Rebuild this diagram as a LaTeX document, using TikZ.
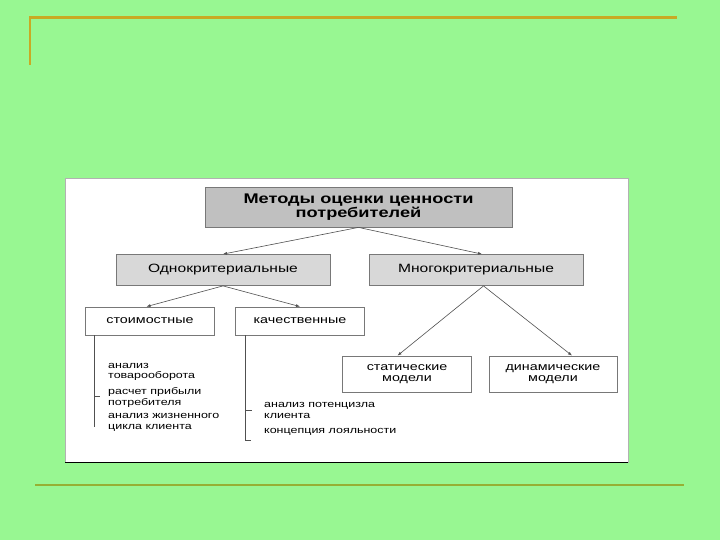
\documentclass[tikz,border=0pt]{standalone}
\usepackage{fontspec}
\setmainfont{Liberation Sans}
\newfontfamily\wf[FakeStretch=1.3]{Liberation Sans}
\usetikzlibrary{arrows.meta}
\definecolor{bg}{RGB}{152,247,146}
\definecolor{goldl}{RGB}{200,170,36}
\definecolor{olivel}{RGB}{150,176,52}
\definecolor{darkbox}{RGB}{192,192,192}
\definecolor{lightbox}{RGB}{216,216,216}
\definecolor{edge}{RGB}{120,120,120}
\definecolor{conn}{RGB}{80,80,80}
\begin{document}
\begin{tikzpicture}[x=1pt,y=-1pt,
  box/.style={draw=edge, line width=0.8pt, inner sep=0pt, align=center, text=black},
  bigbox/.style={box, fill=darkbox, minimum width=307pt, minimum height=40pt,
     font=\wf\bfseries\fontsize{14}{14.5}\selectfont},
  midbox/.style={box, fill=lightbox, minimum width=214pt, minimum height=31pt,
     font=\wf\fontsize{12}{13}\selectfont},
  smallbox/.style={box, fill=white, minimum width=129pt, minimum height=28pt,
     font=\wf\fontsize{11}{11}\selectfont},
  item/.style={anchor=west, inner sep=0pt, align=left,
     font=\wf\fontsize{9.6}{10.5}\selectfont},
  arr/.style={draw=conn, line width=0.6pt, -{Latex[length=4pt,width=3pt]}},
  bar/.style={draw=conn, line width=1pt}]
\useasboundingbox (0,0) rectangle (720,540);
\fill[bg] (0,0) rectangle (720,540);
% decorative lines
\draw[goldl, line width=2.2pt] (30,65) -- (30,17.5) -- (677,17.5);
\draw[olivel, line width=2.6pt] (35,485) -- (684,485);
% white panel
\fill[white] (65,178) rectangle (628,462);
\draw[gray!60, line width=0.5pt] (65,178) rectangle (628,462);
\draw[black, line width=1pt] (65,462) -- (628,462);
% boxes
\node[bigbox] (main) at (358.5,207) {Методы оценки ценности\\потребителей};
\node[midbox] (one) at (223,270) {Однокритериальные};
\node[midbox] (multi) at (476,270) {Многокритериальные};
\node[smallbox] (cost) at (150,321) {стоимостные};
\node[smallbox] (qual) at (300,321) {качественные};
\node[smallbox, minimum height=36pt, font=\wf\fontsize{11}{11.5}\selectfont] (stat) at (407,374) {статические\\модели};
\node[smallbox, minimum height=36pt, minimum width=128pt, font=\wf\fontsize{11}{11.5}\selectfont] (dyn) at (553,374) {динамические\\модели};
% arrows
\draw[arr] (main.south) -- (one.north);
\draw[arr] (main.south) -- ([xshift=6pt]multi.north);
\draw[arr] (one.south) -- ([xshift=-3.5pt]cost.north);
\draw[arr] (one.south) -- (qual.north);
\draw[arr] ([xshift=7.5pt]multi.south) -- ([xshift=-9.5pt]stat.north);
\draw[arr] ([xshift=7.5pt]multi.south) -- ([xshift=19pt]dyn.north);
% lists
\node[item] (c1) at (108,371.7) {анализ\\товарооборота};
\node[item] (c2) at (108,397.5) {расчет прибыли\\потребителя};
\node[item] (c3) at (108,422.3) {анализ жизненного\\цикла клиента};
\node[item] (q1) at (264,410.7) {анализ потенцизла\\клиента};
\node[item] (q2) at (264,431.7) {концепция лояльности};
\coordinate (cs) at ([xshift=-55.5pt]cost.south);
\coordinate (ce) at (94.5,427);
\coordinate (qs) at ([xshift=-55pt]qual.south);
\coordinate (qe) at (245,440);
\draw[bar] (cs) -- (ce);
\draw[bar, line width=0.6pt] (94.5,396) -- (100,396);
\draw[bar] (qs) -- (qe) -- (251,440);
\draw[bar, line width=0.6pt] (245,410) -- (252,410);
\end{tikzpicture}
\end{document}
